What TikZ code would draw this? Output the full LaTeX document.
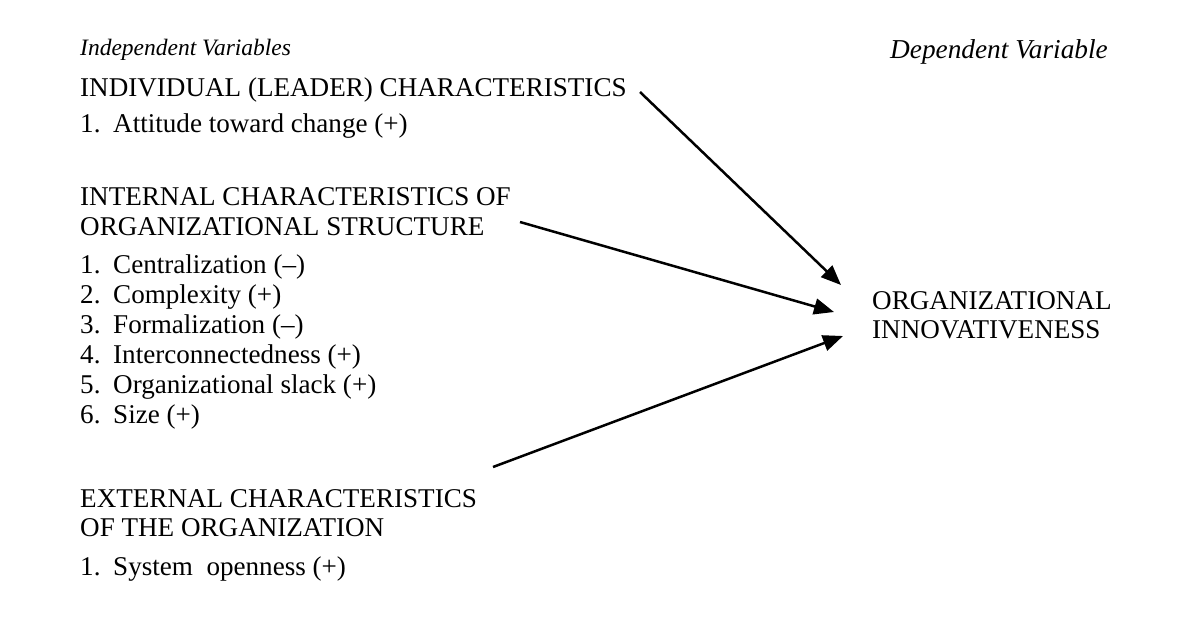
\documentclass[tikz,border=0pt]{standalone}
\usepackage{fontspec}
\setmainfont{Liberation Serif}
\usetikzlibrary{arrows.meta}
\begin{document}
\begin{tikzpicture}[x=1pt,y=-1pt,
  txt/.style={anchor=base west, inner sep=0pt, font=\fontsize{27.1}{30}\selectfont},
  hdr/.style={anchor=base west, inner sep=0pt, font=\fontsize{23.5}{27}\selectfont\itshape},
  hdrr/.style={anchor=base west, inner sep=0pt, font=\fontsize{27.3}{30}\selectfont\itshape},
  conn/.style={line width=2.5pt, -{Triangle[length=20pt,width=16pt]}}]
\useasboundingbox[fill=white] (0,0) rectangle (1199,622);

\node[hdr] (indep) at (80,55) {Independent Variables};
\node[hdrr] (dep) at (890,58) {Dependent Variable};

\node[txt] (indiv) at (80,96) {INDIVIDUAL (LEADER) CHARACTERISTICS};
\node[txt] (n1a) at (80,132) {1.};
\node[txt] (i1a) at (113,132) {Attitude toward change (+)};

\node[txt] (intA) at (80,205) {INTERNAL CHARACTERISTICS OF};
\node[txt] (intB) at (80,235) {ORGANIZATIONAL STRUCTURE};
\node[txt] (n2a) at (80,273) {1.};
\node[txt] (i2a) at (113,273) {Centralization (–)};
\node[txt] (n2b) at (80,303) {2.};
\node[txt] (i2b) at (113,303) {Complexity (+)};
\node[txt] (n2c) at (80,333) {3.};
\node[txt] (i2c) at (113,333) {Formalization (–)};
\node[txt] (n2d) at (80,363) {4.};
\node[txt] (i2d) at (113,363) {Interconnectedness (+)};
\node[txt] (n2e) at (80,393) {5.};
\node[txt] (i2e) at (113,393) {Organizational slack (+)};
\node[txt] (n2f) at (80,423) {6.};
\node[txt] (i2f) at (113,423) {Size (+)};

\node[txt] (extA) at (80,507) {EXTERNAL CHARACTERISTICS};
\node[txt] (extB) at (80,536) {OF THE ORGANIZATION};
\node[txt] (n3a) at (80,575) {1.};
\node[txt] (i3a) at (113,575) {System\ \ openness (+)};

\node[txt] (innovA) at (872,309) {ORGANIZATIONAL};
\node[txt] (innovB) at (872,338) {INNOVATIVENESS};

\coordinate (s1) at (640,92);
\coordinate (s2) at (520,222);
\coordinate (s3) at (493,467);
\coordinate (t1) at (841,285);
\coordinate (t2) at (834,312);
\coordinate (t3) at (843,336);

\draw[conn] (s1) -- (t1);
\draw[conn] (s2) -- (t2);
\draw[conn] (s3) -- (t3);
\end{tikzpicture}
\end{document}
